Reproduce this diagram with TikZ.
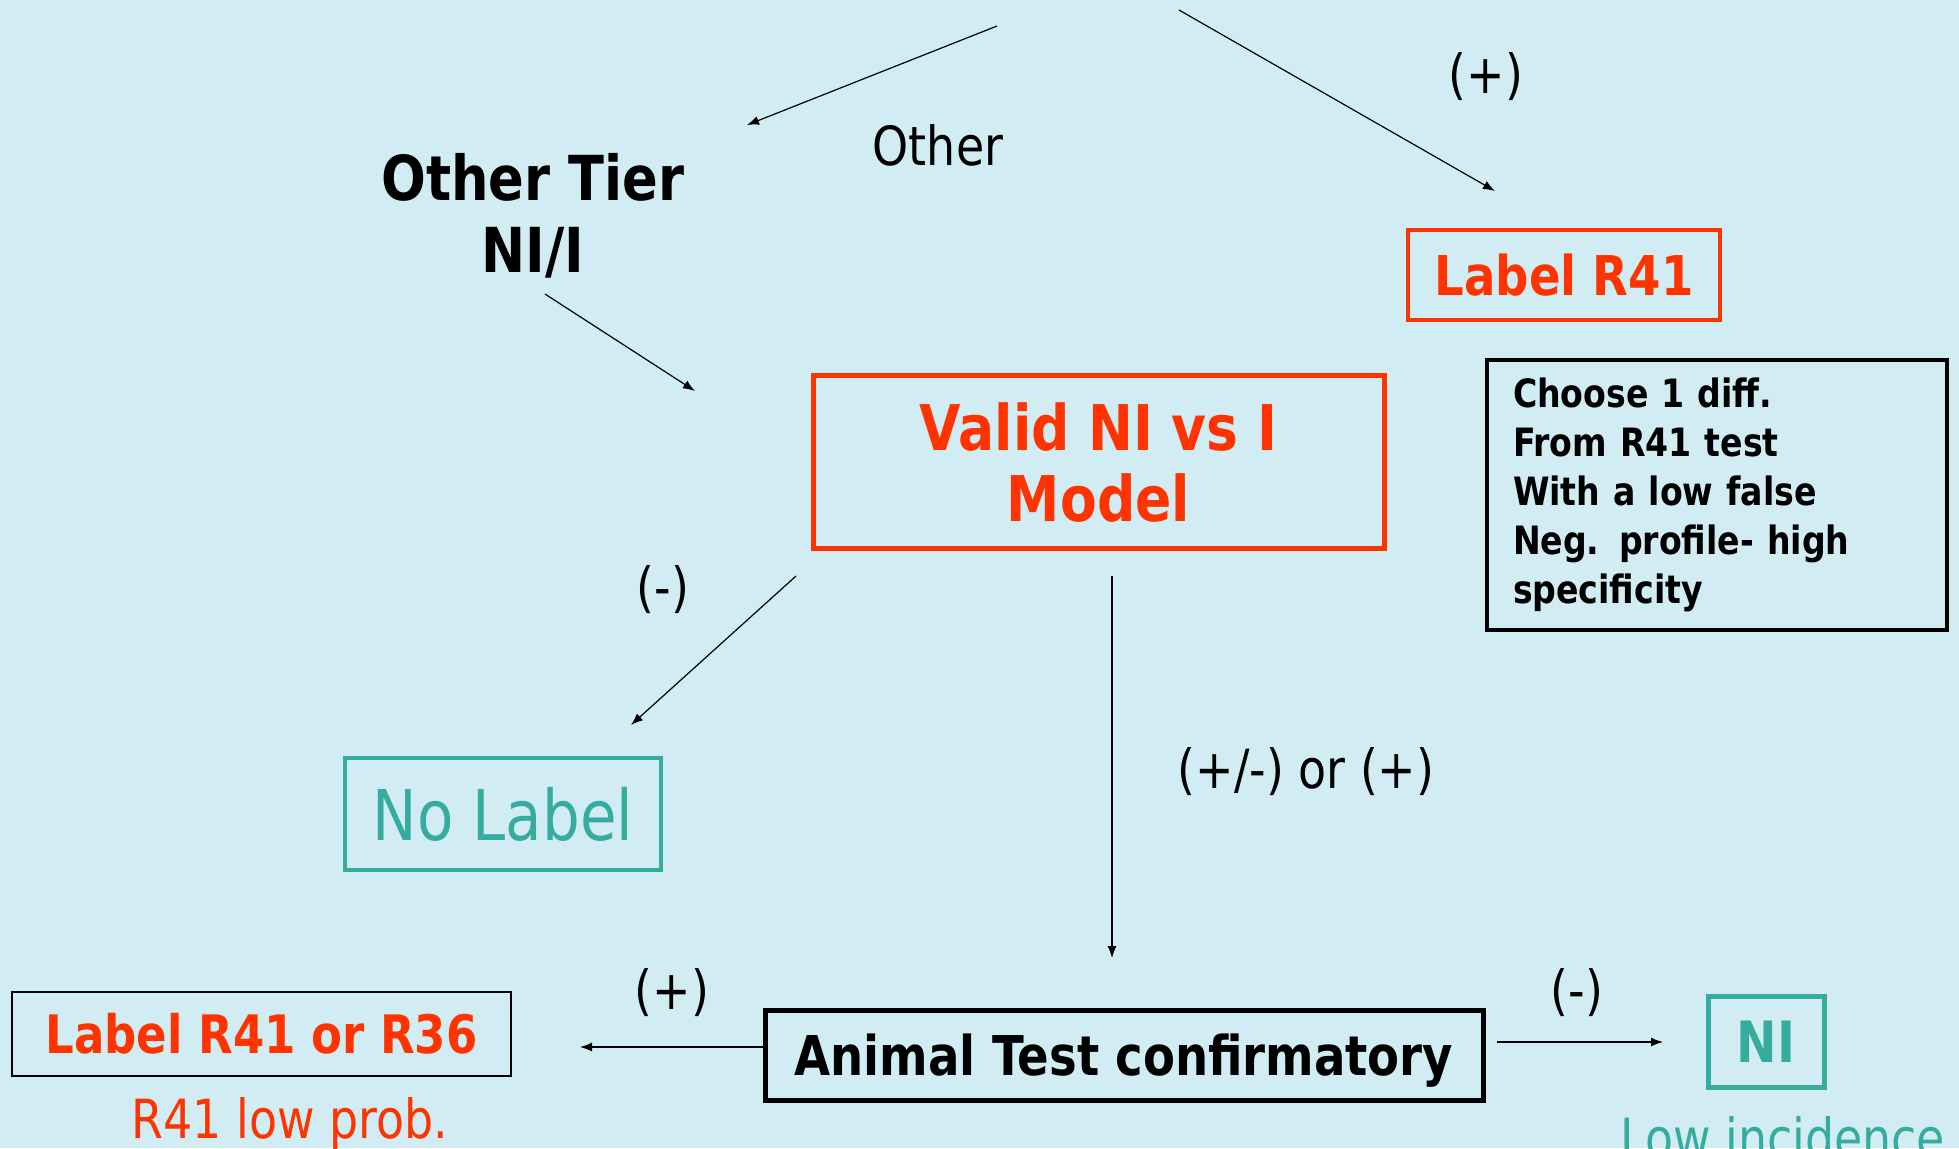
\documentclass[tikz,border=0pt]{standalone}
\usepackage{fontspec}
\setmainfont{DejaVu Sans}[FakeStretch=0.85]
\usetikzlibrary{arrows.meta}
\definecolor{bgblue}{RGB}{209,237,243}
\definecolor{redlab}{RGB}{255,51,0}
\definecolor{teallab}{RGB}{54,172,158}
\tikzset{
  redbox/.style={draw=redlab, text=redlab, line width=2pt, inner sep=0pt},
  tealbox/.style={draw=teallab, text=teallab, line width=2pt, inner sep=0pt},
  blkbox/.style={draw=black, line width=2.5pt, inner sep=0pt},
  lab/.style={inner sep=0pt, font=\fontsize{27}{32}\selectfont},
  arr/.style={-{Latex[length=6pt,width=4.5pt]}, line width=0.6pt},
}

\begin{document}
\begin{tikzpicture}[x=0.5pt,y=-0.5pt]
\useasboundingbox (0,0) rectangle (1959,1148);
\fill[bgblue] (0,0) rectangle (1959,1148);
\clip (0,0) rectangle (1959,1148);
% boxes
\node[font=\bfseries\fontsize{31}{36}\selectfont, align=center, inner sep=0pt] (tier) at (533,216) {Other Tier\\NI/I};
\node[redbox, minimum width=156pt, minimum height=45pt, font=\bfseries\fontsize{27.4}{32}\selectfont] (r41) at (1564,275) {Label R41};
\node[redbox, line width=2.5pt, minimum width=285.5pt, minimum height=86.5pt, align=center, font=\bfseries\fontsize{31.5}{35.5}\selectfont] (valid) at (1098.5,462) {Valid NI vs I\\Model};
\node[blkbox, line width=2pt, minimum height=135pt, text width=204pt, inner xsep=13pt, inner ysep=3pt, align=left, font=\bfseries\fontsize{19.5}{24.5}\selectfont] (choose) at (1717,495) {Choose 1 diff.\\From R41 test\\With a low false\\Neg. profile- high\\specificity};
\node[tealbox, minimum width=158pt, minimum height=56pt, font=\fontsize{35}{40}\selectfont] (nolab) at (503,814) {No Label};
\node[draw=black, line width=0.8pt, inner sep=0pt, text=redlab, minimum width=249.5pt, minimum height=42pt, font=\bfseries\fontsize{26.5}{32}\selectfont] (r36) at (261.5,1034) {Label R41 or R36};
\node[blkbox, minimum width=359pt, minimum height=45pt, text depth=0pt, font=\bfseries\fontsize{27.4}{32}\selectfont] (animal) at (1124,1055) {Animal Test confirmatory};
\node[tealbox, line width=2.5pt, minimum width=58pt, minimum height=45.5pt, font=\bfseries\fontsize{28.5}{32}\selectfont] (ni) at (1766,1042) {NI};
% labels
\node[lab] (other) at (938,145) {Other};
\node[lab] (pos1) at (1486,77) {(+)};
\node[lab] (neg1) at (663,590) {(-)};
\node[lab] (posneg) at (1306,772) {(+/-) or (+)};
\node[lab] (pos2) at (672,993) {(+)};
\node[lab] (neg2) at (1577,993) {(-)};
\node[lab, text=redlab] (lowprob) at (290,1124) {R41 low prob.};
\node[lab, text=teallab, anchor=base west] (lowinc) at (1620,1157) {Low incidence};
% arrows
\coordinate (topl) at (997,26);   \coordinate (tierin) at (747,125);
\coordinate (topr) at (1179,10);  \coordinate (r41in) at (1495,191);
\coordinate (tierout) at (545,294); \coordinate (validin) at (695,391);
\coordinate (validl) at (796,576); \coordinate (nolabin) at (631,725);
\coordinate (validb) at (1112,576); \coordinate (animalin) at (1112,958);
\coordinate (animall) at (763,1047); \coordinate (r36in) at (580,1047);
\coordinate (animalr) at (1497,1042); \coordinate (niin) at (1663,1042);
\draw[arr] (topl) -- (tierin);
\draw[arr] (topr) -- (r41in);
\draw[arr] (tierout) -- (validin);
\draw[arr] (validl) -- (nolabin);
\draw[arr] (validb) -- (animalin);
\draw[arr] (animall) -- (r36in);
\draw[arr] (animalr) -- (niin);
\end{tikzpicture}
\end{document}
